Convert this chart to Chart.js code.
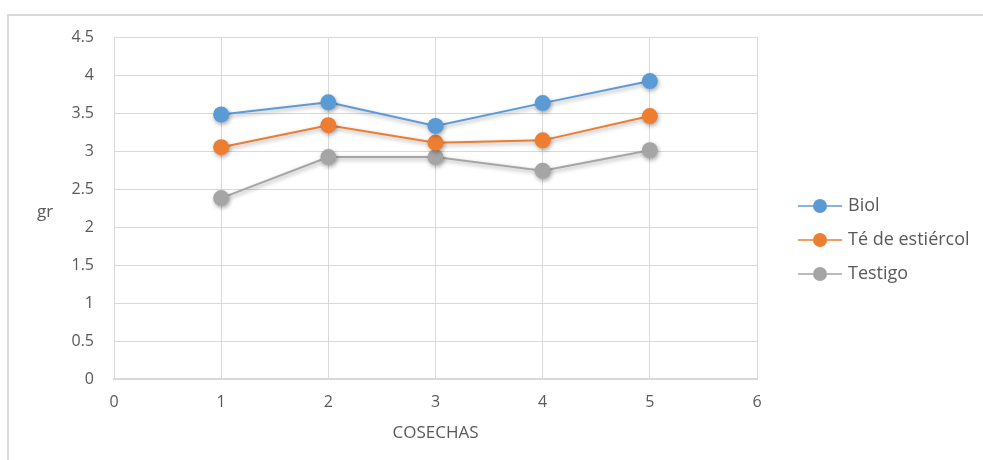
<!DOCTYPE html>
<html>
<head>
<meta charset="utf-8">
<script src="https://cdn.jsdelivr.net/npm/chart.js@4/dist/chart.umd.min.js"></script>
<style>
    html, body { margin: 0; padding: 0; background: #fff; }
    #wrap { position: relative; width: 983px; height: 460px; overflow: hidden; }
    #frame { position: absolute; left: 7px; top: 14px; width: 990px; height: 460px;
             border-left: 2px solid #d9d9d9; border-top: 2px solid #d9d9d9; }
    #ytitle { position: absolute; left: 37px; top: 199px; font: 17px "Open Sans", sans-serif; color: #595959; }
    canvas { position: absolute; left: 0; top: 0; }
</style>
</head>
<body>
<div id="wrap">
    <div id="frame"></div>
    <canvas id="chart" width="983" height="460"></canvas>
    <div id="ytitle">gr</div>
</div>
<script>
// cosechas (x) and the weight per treatment (gr)
const cosechas = [1, 2, 3, 4, 5];
const biol = [3.48, 3.64, 3.33, 3.63, 3.92];
const teEstiercol = [3.05, 3.34, 3.11, 3.14, 3.46];
const testigo = [2.38, 2.92, 2.92, 2.74, 3.01];

const seriesNames = ["Biol", "Té de estiércol", "Testigo"];
const seriesColors = ["#5b9bd5", "#ed7d31", "#a5a5a5"];
const seriesValues = [biol, teEstiercol, testigo];

const FONT = '"Open Sans", sans-serif';
const TEXT = "#595959";
const GRID = "#d9d9d9";

// soft shadow under lines and markers, like the office chart
const shadowPlugin = {
    id: "shadow",
    beforeDatasetsDraw(chart) {
        const ctx = chart.ctx;
        ctx.save();
        ctx.shadowColor = "rgba(0,0,0,0.35)";
        ctx.shadowBlur = 4;
        ctx.shadowOffsetX = 1;
        ctx.shadowOffsetY = 2;
    },
    afterDatasetsDraw(chart) {
        chart.ctx.restore();
    }
};

// legend on the right: line with a marker, then the name
const sideLegend = {
    id: "sideLegend",
    afterDraw(chart) {
        const ctx = chart.ctx;
        const x0 = 798, x1 = 842, tx = 848;
        const ys = [206, 240, 274];
        ctx.save();
        chart.data.datasets.forEach((ds, i) => {
            const y = ys[i];
            ctx.strokeStyle = ds.borderColor;
            ctx.lineWidth = 1.5;
            ctx.beginPath();
            ctx.moveTo(x0, y);
            ctx.lineTo(x1, y);
            ctx.stroke();
            ctx.fillStyle = ds.backgroundColor;
            ctx.beginPath();
            ctx.arc((x0 + x1) / 2, y, 7, 0, Math.PI * 2);
            ctx.fill();
            ctx.fillStyle = TEXT;
            ctx.font = "18px " + FONT;
            ctx.textBaseline = "middle";
            ctx.textAlign = "left";
            ctx.fillText(ds.label, tx, y);
        });
        ctx.restore();
    }
};

const datasets = seriesNames.map((name, i) => ({
    label: name,
    data: cosechas.map((c, j) => ({ x: c, y: seriesValues[i][j] })),
    borderColor: seriesColors[i],
    backgroundColor: seriesColors[i],
    borderWidth: 2,
    pointRadius: 8,
    pointHoverRadius: 8,
    pointBorderWidth: 0,
    tension: 0
}));

new Chart(document.getElementById("chart"), {
    type: "line",
    data: { datasets: datasets },
    options: {
        responsive: false,
        animation: false,
        layout: { padding: { left: 0, top: 37, right: 226, bottom: 0 } },
        plugins: {
            legend: { display: false },
            tooltip: { enabled: false }
        },
        scales: {
            x: {
                type: "linear",
                min: 0,
                max: 6,
                ticks: { stepSize: 1, padding: 14, color: TEXT, font: { family: FONT, size: 16 } },
                grid: { color: GRID, drawTicks: false },
                border: { color: GRID, width: 2 },
                title: {
                    display: true,
                    text: "COSECHAS",
                    color: TEXT,
                    font: { family: FONT, size: 17 },
                    padding: { top: 0, bottom: 17 }
                },
                afterFit(s) { s.height = 81; }
            },
            y: {
                min: 0,
                max: 4.5,
                ticks: {
                    stepSize: 0.5,
                    padding: 20,
                    color: TEXT,
                    font: { family: FONT, size: 16 },
                    callback: v => String(v)
                },
                grid: { color: GRID, drawTicks: false },
                border: { color: GRID },
                afterFit(s) { s.width = 114; }
            }
        }
    },
    plugins: [shadowPlugin, sideLegend]
});
</script>
</body>
</html>
